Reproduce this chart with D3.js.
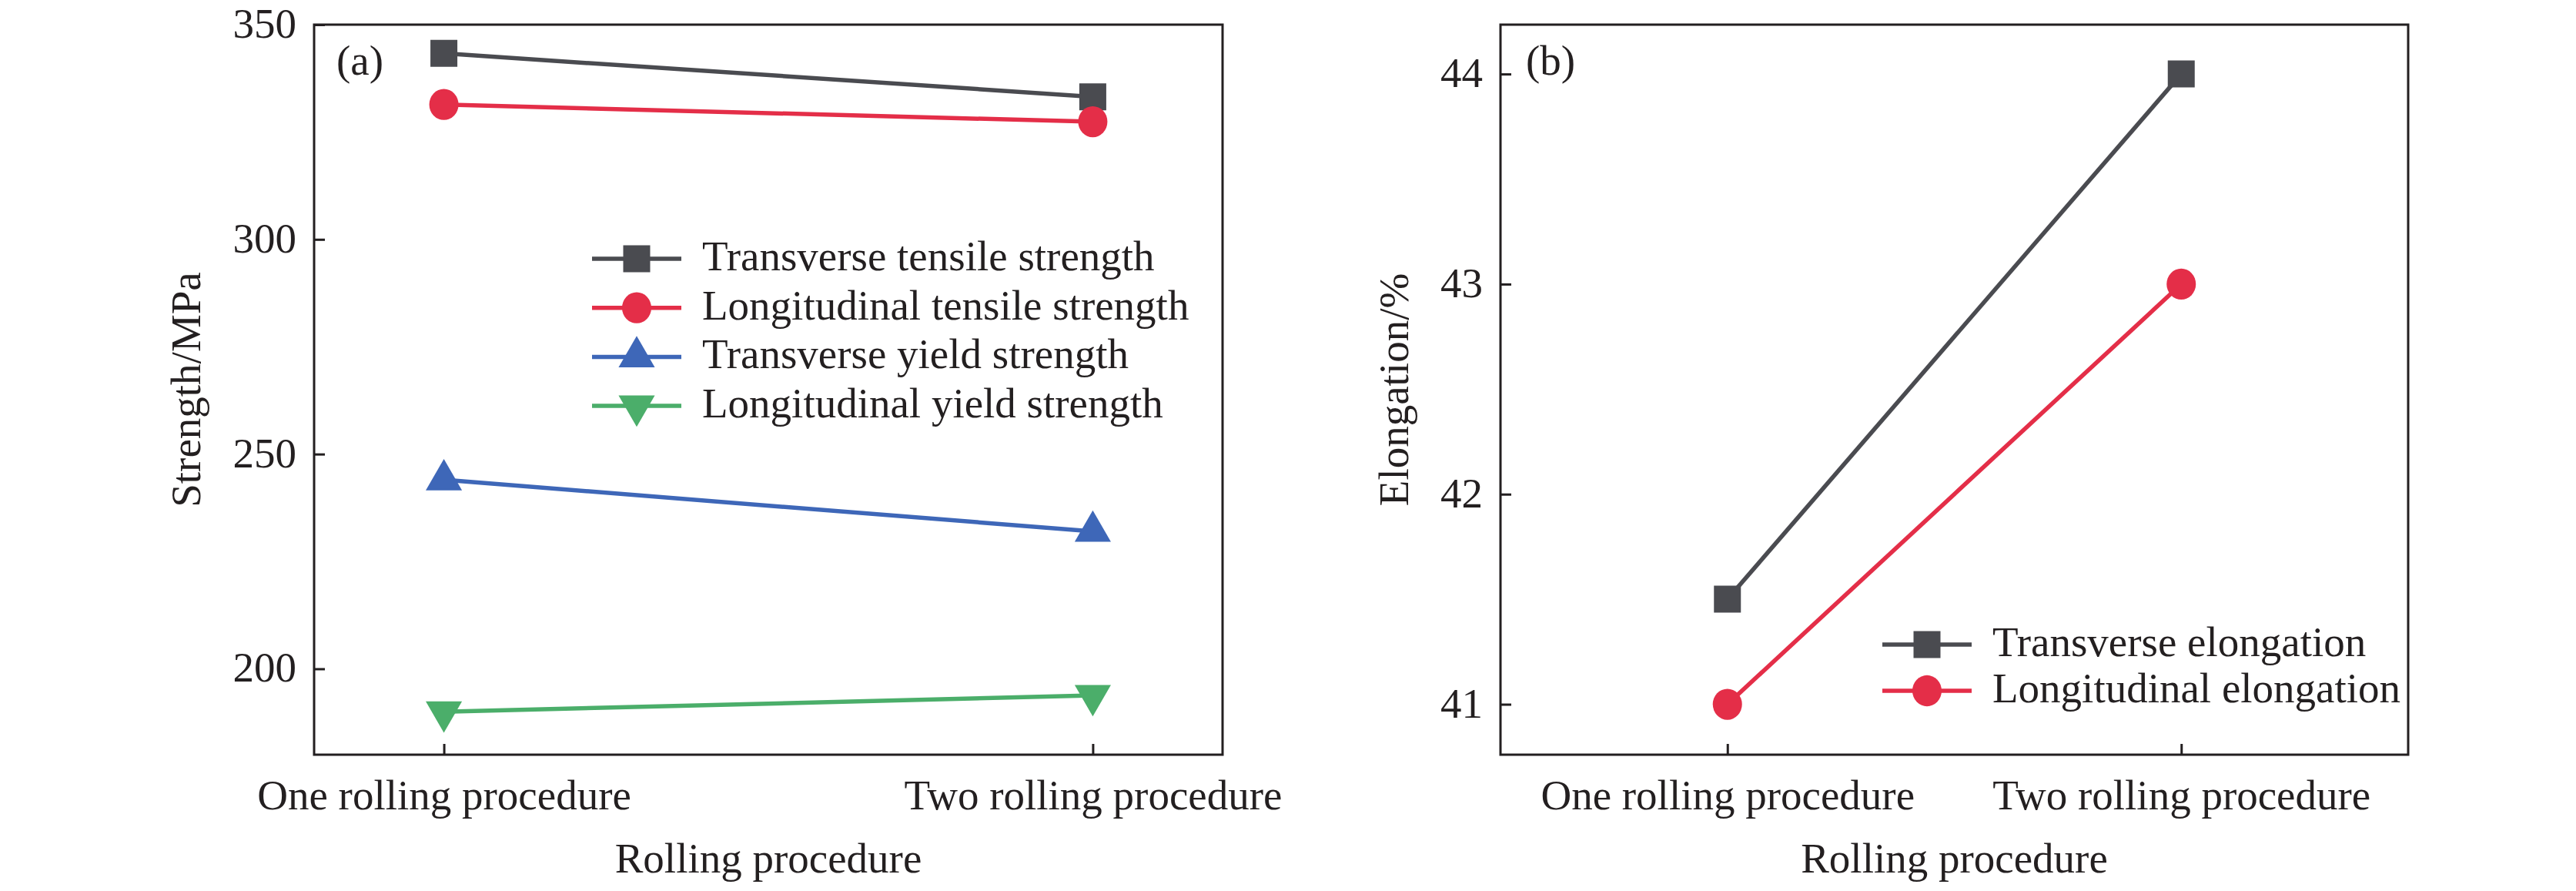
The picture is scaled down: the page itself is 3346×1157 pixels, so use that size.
<!DOCTYPE html>
<html>
<head>
<meta charset="utf-8">
<script src="https://cdn.jsdelivr.net/npm/d3@7"></script>
<style>
  html, body { margin: 0; padding: 0; background: #fff; }
  svg { display: block; }
  text { font-family: "Liberation Serif", "Times New Roman", serif; fill: #231f20; }
</style>
</head>
<body>
<svg id="chart" width="3346" height="1157"></svg>
<script>
// ---------- data ----------
const categories = ["One rolling procedure", "Two rolling procedure"];

const strengthTicks = [200, 250, 300, 350];
const elongationTicks = [41, 42, 43, 44];

const transverseTensile   = [343.3, 333.2];
const longitudinalTensile = [331.4, 327.4];
const transverseYield     = [244.0, 232.0];
const longitudinalYield   = [190.0, 193.8];

const transverseElongation   = [41.5, 44.0];
const longitudinalElongation = [41.0, 43.0];

const seriesNamesA = ["Transverse tensile strength", "Longitudinal tensile strength",
                      "Transverse yield strength", "Longitudinal yield strength"];
const seriesNamesB = ["Transverse elongation", "Longitudinal elongation"];

// ---------- styling ----------
const colors = { gray: "#4a4b50", red: "#e42e48", blue: "#3e67b8", green: "#4bae6a" };
const ink = "#231f20";
const FS = 55;

const seriesA = [
  { name: seriesNamesA[0], values: transverseTensile,   color: colors.gray,  symbol: "square" },
  { name: seriesNamesA[1], values: longitudinalTensile, color: colors.red,   symbol: "circle" },
  { name: seriesNamesA[2], values: transverseYield,     color: colors.blue,  symbol: "up" },
  { name: seriesNamesA[3], values: longitudinalYield,   color: colors.green, symbol: "down" }
];
const seriesB = [
  { name: seriesNamesB[0], values: transverseElongation,   color: colors.gray, symbol: "square" },
  { name: seriesNamesB[1], values: longitudinalElongation, color: colors.red,  symbol: "circle" }
];

const svg = d3.select("#chart");

function symbolPath(kind) {
  if (kind === "square") return d3.symbol().type(d3.symbolSquare).size(35 * 35)();
  if (kind === "circle") return d3.symbol().type(d3.symbolCircle).size(Math.PI * 19 * 19)();
  return d3.symbol().type(d3.symbolTriangle).size(960)();
}
function drawMarker(g, kind, x, y, color) {
  g.append("path")
    .attr("d", symbolPath(kind))
    .attr("transform", `translate(${x},${y})` + (kind === "down" ? " rotate(180)" : "") +
          (kind === "circle" ? " scale(1,1.06)" : ""))
    .attr("fill", color);
}

function panel(opts) {
  const { left, right, top, bottom, domain, ticks, padding, series, ytitle, ytitleX, tag, tagX,
          legendX, legendY0, legendStep } = opts;
  const g = svg.append("g");

  const x = d3.scalePoint().domain(categories).range([left, right]).padding(padding);
  const y = d3.scaleLinear().domain(domain).range([bottom, top]);

  // y axis
  const ya = g.append("g").attr("transform", `translate(${left},0)`)
    .call(d3.axisLeft(y).tickValues(ticks).tickFormat(d3.format("d"))
      .tickSizeInner(-14).tickSizeOuter(0).tickPadding(23));
  ya.select(".domain").remove();
  ya.selectAll(".tick line").attr("stroke", ink).attr("stroke-width", 3);
  ya.selectAll(".tick text").attr("font-size", FS).attr("fill", ink)
    .attr("font-family", "Liberation Serif, serif").attr("dy", "0.3em");

  // x axis
  const xa = g.append("g").attr("transform", `translate(0,${bottom})`)
    .call(d3.axisBottom(x).tickSizeInner(-14).tickSizeOuter(0).tickPadding(0));
  xa.select(".domain").remove();
  xa.selectAll(".tick line").attr("stroke", ink).attr("stroke-width", 3);
  xa.selectAll(".tick text").attr("font-size", FS).attr("fill", ink)
    .attr("font-family", "Liberation Serif, serif").attr("y", 71).attr("dy", 0);

  // frame
  g.append("rect").attr("x", left).attr("y", top)
    .attr("width", right - left).attr("height", bottom - top)
    .attr("fill", "none").attr("stroke", ink).attr("stroke-width", 3);

  // lines + markers
  const line = d3.line().x((d, i) => x(categories[i])).y(d => y(d));
  series.forEach(s => {
    g.append("path").datum(s.values).attr("d", line)
      .attr("fill", "none").attr("stroke", s.color).attr("stroke-width", 5.5);
  });
  series.forEach(s => {
    s.values.forEach((v, i) => drawMarker(g, s.symbol, x(categories[i]), y(v), s.color));
  });

  // legend
  series.forEach((s, i) => {
    const ly = legendY0 + i * legendStep;
    g.append("line").attr("x1", legendX).attr("x2", legendX + 116)
      .attr("y1", ly).attr("y2", ly).attr("stroke", s.color).attr("stroke-width", 5.5);
    drawMarker(g, s.symbol, legendX + 58, ly, s.color);
    g.append("text").attr("x", legendX + 143).attr("y", ly + 15)
      .attr("font-size", FS).text(s.name);
  });

  // axis titles
  g.append("text").attr("x", (left + right) / 2).attr("y", 1133)
    .attr("text-anchor", "middle").attr("font-size", FS).text("Rolling procedure");
  g.append("text").attr("transform", `translate(${ytitleX},${(top + bottom) / 2}) rotate(-90)`)
    .attr("text-anchor", "middle").attr("font-size", FS).text(ytitle);

  // panel tag
  g.append("text").attr("x", tagX).attr("y", 97).attr("font-size", FS).text(tag);
}

panel({
  left: 408, right: 1588, top: 32, bottom: 980,
  domain: [180, 350], ticks: strengthTicks, padding: 0.2,
  series: seriesA, ytitle: "Strength/MPa", ytitleX: 260, tag: "(a)", tagX: 437,
  legendX: 769, legendY0: 336, legendStep: 63.7
});

panel({
  left: 1949, right: 3128, top: 32, bottom: 980,
  domain: [40.76, 44.235], ticks: elongationTicks, padding: 0.5,
  series: seriesB, ytitle: "Elongation/%", ytitleX: 1829, tag: "(b)", tagX: 1982,
  legendX: 2445, legendY0: 837, legendStep: 60
});
</script>
</body>
</html>
